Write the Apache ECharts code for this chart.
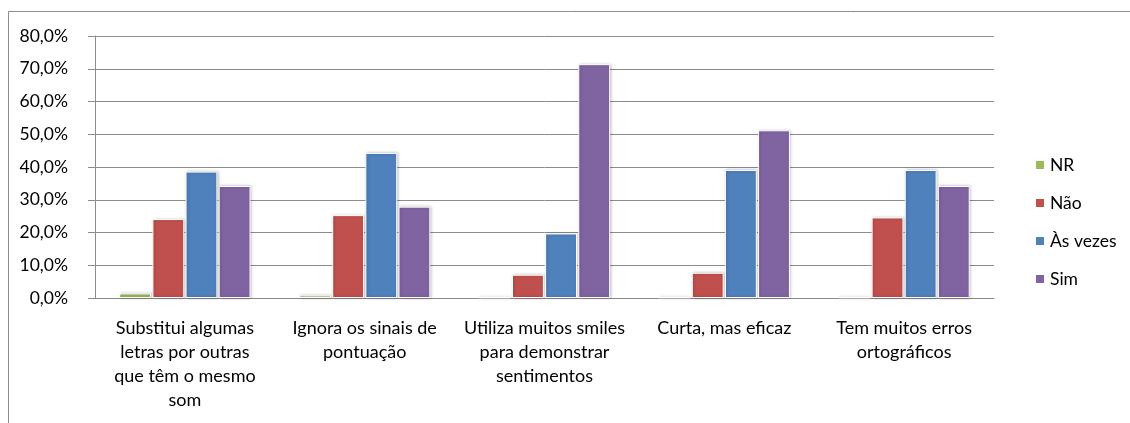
<!DOCTYPE html>
<html>
<head>
<meta charset="utf-8">
<script src="https://cdn.jsdelivr.net/npm/echarts@6/dist/echarts.min.js"></script>
<style>
    html, body { margin: 0; padding: 0; background: #fff; }
    #chart { width: 1130px; height: 423px; }
</style>
</head>
<body>
<div id="chart"></div>
<script>
const categories = [
    "Substitui algumas\nletras por outras\nque têm o mesmo\nsom",
    "Ignora os sinais de\npontuação",
    "Utiliza muitos smiles\npara demonstrar\nsentimentos",
    "Curta, mas eficaz",
    "Tem muitos erros\nortográficos"
];
const seriesNames = ["NR", "Não", "Às vezes", "Sim"];
const nr = [1.4, 0.8, 0.2, 0.2, 0.2];
const nao = [24.1, 25.3, 7.1, 7.7, 24.6];
const asVezes = [38.6, 44.3, 19.7, 39.1, 39.1];
const sim = [34.2, 27.9, 71.4, 51.2, 34.2];
const colors = ["#9BBB59", "#C0504D", "#4F81BD", "#8064A2"];

const font = "Lato, 'Liberation Sans', sans-serif";
const gridColor = "#8c8c8c";

const chart = echarts.init(document.getElementById("chart"));
const values = [nr, nao, asVezes, sim];

const option = {
    animation: false,
    textStyle: { fontFamily: font, color: "#000" },
    graphic: [
        {
            type: "rect",
            shape: { x: 8.5, y: 11.5, width: 1200, height: 600 },
            style: { fill: "none", stroke: "#8c8c8c", lineWidth: 1 },
            silent: true
        }
    ],
    legend: {
        orient: "vertical",
        left: 1029,
        top: 151,
        itemWidth: 10,
        itemHeight: 10,
        itemGap: 20,
        icon: "rect",
        textStyle: { fontFamily: font, fontSize: 17.5, lineHeight: 18, color: "#000" },
        data: seriesNames
    },
    grid: { left: 95, right: 136, top: 36, bottom: 125 },
    xAxis: {
        type: "category",
        data: categories,
        axisLine: { lineStyle: { color: gridColor } },
        axisTick: { length: 6, lineStyle: { color: gridColor } },
        axisLabel: {
            interval: 0,
            margin: 18,
            fontSize: 18,
            lineHeight: 24,
            color: "#000",
            fontFamily: font
        }
    },
    yAxis: {
        type: "value",
        min: 0,
        max: 80,
        interval: 10,
        axisLine: { show: true, lineStyle: { color: gridColor } },
        axisTick: { show: true, inside: false, length: 7, lineStyle: { color: gridColor } },
        splitLine: { lineStyle: { color: gridColor, width: 1 } },
        axisLabel: {
            margin: 27,
            fontSize: 17.5,
            color: "#000",
            fontFamily: font,
            formatter: (v) => v.toFixed(1).replace(".", ",") + "%"
        }
    },
    series: seriesNames.map((name, i) => ({
        name: name,
        type: "bar",
        data: values[i],
        barCategoryGap: "27%",
        barGap: "4%",
        itemStyle: {
            color: colors[i],
            borderColor: "#fff",
            borderWidth: 1,
            shadowColor: "rgba(0,0,0,0.25)",
            shadowBlur: 3,
            shadowOffsetX: 1,
            shadowOffsetY: 0
        }
    }))
};

chart.setOption(option);
</script>
</body>
</html>
